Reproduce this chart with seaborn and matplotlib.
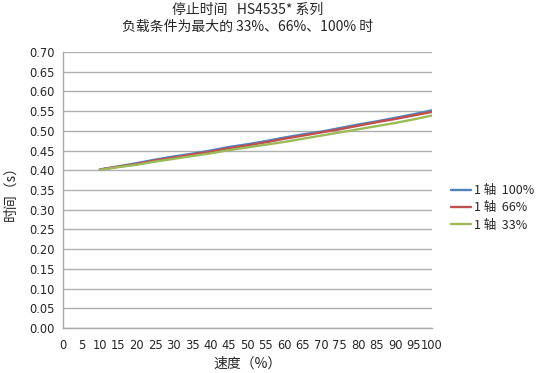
import matplotlib
matplotlib.use("Agg")
import matplotlib.pyplot as plt
import seaborn as sns
import pandas as pd

# speed (%) and stop time (s) for each load condition
speed = [10, 15, 20, 25, 30, 35, 40, 45, 50, 55, 60, 65, 70, 75, 80, 85, 90, 95, 100]
load_100 = [0.402, 0.410, 0.418, 0.427, 0.435, 0.442, 0.450, 0.459, 0.466, 0.474,
            0.483, 0.491, 0.498, 0.507, 0.516, 0.524, 0.533, 0.542, 0.552]
load_66 = [0.402, 0.409, 0.416, 0.425, 0.432, 0.440, 0.447, 0.456, 0.463, 0.471,
           0.480, 0.488, 0.496, 0.504, 0.513, 0.522, 0.530, 0.539, 0.548]
load_33 = [0.401, 0.408, 0.414, 0.422, 0.429, 0.436, 0.443, 0.451, 0.458, 0.465,
           0.472, 0.480, 0.488, 0.496, 0.504, 0.512, 0.520, 0.529, 0.539]
series_names = ["1 轴  100%", "1 轴  66%", "1 轴  33%"]
colors = ["#4F81BD", "#C0504D", "#9BBB59"]

sns.set_style("white")
plt.rcParams["font.family"] = ["Noto Sans CJK SC", "DejaVu Sans"]

df = pd.concat([
    pd.DataFrame({"speed": speed, "time": vals, "series": name})
    for name, vals in zip(series_names, [load_100, load_66, load_33])
])

fig = plt.figure(figsize=(5.5, 3.73), dpi=100)
ax = fig.add_axes([0.1145, 0.1206, 0.6709, 0.74])

sns.lineplot(data=df, x="speed", y="time", hue="series",
             palette=dict(zip(series_names, colors)), linewidth=1.7, ax=ax)

ax.set_xlim(0, 100)
ax.set_ylim(0, 0.70)
ax.set_xticks(range(0, 101, 5))
ax.set_yticks([i * 0.05 for i in range(15)])
ax.set_yticklabels([f"{i * 0.05:.2f}" for i in range(15)], family="DejaVu Sans")
ax.set_xticklabels([str(v) for v in range(0, 101, 5)], family="DejaVu Sans")
ax.tick_params(axis="both", labelsize=8.3, length=4, color="#a0a0a0",
               direction="out", pad=2)
ax.tick_params(axis="x", pad=4)
ax.grid(axis="y", color="#b0b0b0", linewidth=1)
ax.set_axisbelow(True)
for side in ["top", "right"]:
    ax.spines[side].set_visible(False)
for side in ["left", "bottom"]:
    ax.spines[side].set_color("#a8a8a8")
    ax.spines[side].set_linewidth(1)

ax.set_xlabel("速度（%）", fontsize=10, labelpad=3)
ax.set_ylabel("时间（s）", fontsize=10, labelpad=8)
ax.set_title("停止时间   HS4535* 系列\n负载条件为最大的 33%、66%、100% 时",
             fontsize=10, pad=15, linespacing=1.3)

ax.legend(loc="center left", bbox_to_anchor=(1.02, 0.435), frameon=False,
          fontsize=9, handlelength=1.6, handletextpad=0.3, labelspacing=0.35,
          title=None)

fig.savefig("out.png", dpi=100)
plt.close(fig)
